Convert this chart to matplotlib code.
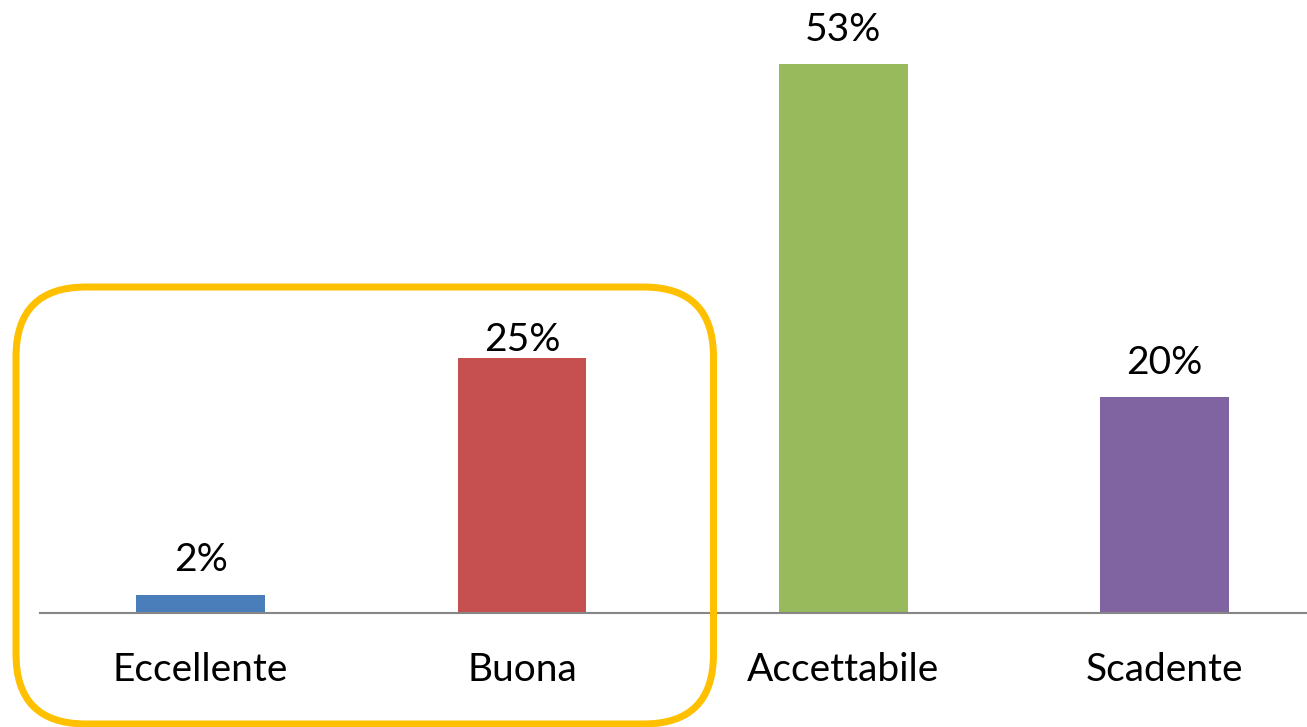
import matplotlib
matplotlib.use("Agg")
import matplotlib.pyplot as plt
from matplotlib.patches import FancyBboxPatch
from matplotlib.transforms import IdentityTransform

categories = ["Eccellente", "Buona", "Accettabile", "Scadente"]
values = [1.7, 24.6, 53.0, 20.9]
value_labels = ["2%", "25%", "53%", "20%"]
colors = ["#4A7EBB", "#C6504F", "#98BA5C", "#8064A2"]

plt.rcParams['font.family'] = ['Lato', 'DejaVu Sans']

W, H = 1307, 727
dpi = 100
fig = plt.figure(figsize=(W / dpi, H / dpi), dpi=dpi)

# axes geometry in pixels
left_px = 40
base_px = 613          # baseline from top
step_px = 321.3
px_per_unit = 10.355
ax_w = 4 * step_px
ax_h = base_px
ax = fig.add_axes([left_px / W, (H - base_px) / H, ax_w / W, ax_h / H])
ax.set_xlim(-0.5, 3.5)
ax.set_ylim(0, base_px / px_per_unit)

x = list(range(len(categories)))
ax.bar(x, values, width=0.40, color=colors, zorder=2)

for s in ["top", "right", "left"]:
    ax.spines[s].set_visible(False)
ax.spines["bottom"].set_color("#868686")
ax.spines["bottom"].set_linewidth(1.5)
ax.set_yticks([])
ax.set_xticks([])
ax.patch.set_alpha(0)

fs = 28
pt = 72 / dpi
gaps = [24, 7.7, 23, 23]   # label gap above bar in px
for i, (v, lab) in enumerate(zip(values, value_labels)):
    ax.annotate(lab, xy=(i, v), xytext=(0, gaps[i] * pt), textcoords="offset points",
                ha="center", va="baseline", fontsize=fs, color="black")
for i, c in enumerate(categories):
    ax.annotate(c, xy=(i, 0), xytext=(0, -67.7 * pt), textcoords="offset points",
                ha="center", va="baseline", fontsize=fs, color="black")

# highlight rounded rectangle (pixel coords, origin bottom-left)
x0, x1 = 16, 713.5
y_top, y_bot = 287, 724
box = FancyBboxPatch((x0, H - y_bot), x1 - x0, y_bot - y_top,
                     boxstyle="round,pad=0,rounding_size=70",
                     linewidth=7 * pt, edgecolor="#FFC000", facecolor="none",
                     transform=IdentityTransform(), zorder=5)
fig.add_artist(box)

fig.savefig("out.png", dpi=dpi, facecolor="white")
